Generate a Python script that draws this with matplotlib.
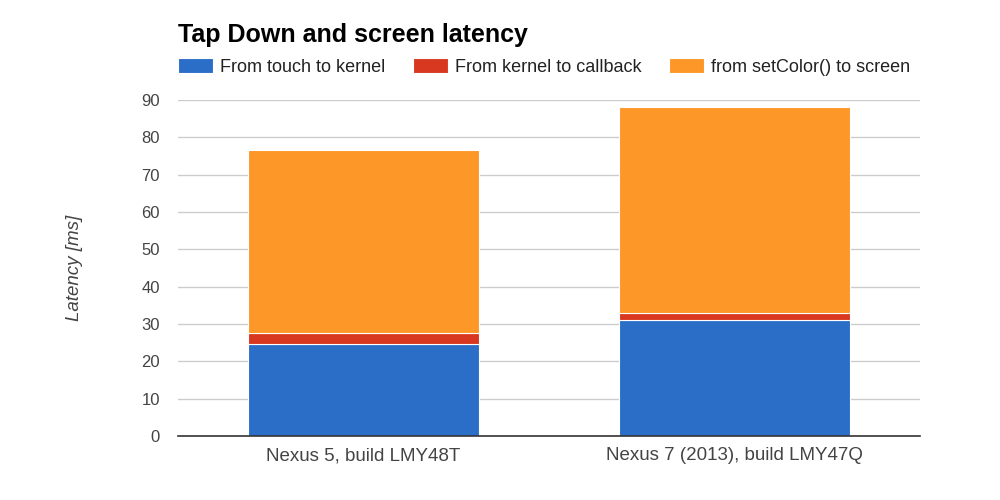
import numpy as np
import matplotlib
matplotlib.use("Agg")
import matplotlib.pyplot as plt

plt.rcParams['font.family'] = ['Liberation Sans', 'DejaVu Sans']

devices = ["Nexus 5, build LMY48T", "Nexus 7 (2013), build LMY47Q"]
touch_to_kernel = [24.6, 31.1]
kernel_to_callback = [3.1, 1.8]
setcolor_to_screen = [48.9, 55.1]

series_names = ["From touch to kernel", "From kernel to callback", "from setColor() to screen"]
colors = ["#2b6ec8", "#d93820", "#fd9727"]

fig = plt.figure(figsize=(10, 5), dpi=100)
ax = fig.add_axes([0.178, 0.128, 0.742, 0.672])

x = np.arange(len(devices))
bottom = np.zeros(len(devices))
handles = []
for vals, name, c in zip([touch_to_kernel, kernel_to_callback, setcolor_to_screen], series_names, colors):
    b = ax.bar(x, vals, width=0.62, bottom=bottom, color=c, edgecolor="white",
               linewidth=0.8, label=name, zorder=3)
    handles.append(b)
    bottom += np.array(vals)

ax.set_xlim(-0.5, 1.5)
ax.set_ylim(0, 90)
ax.set_yticks(np.arange(0, 91, 10))
ax.set_xticks(x)
ax.set_xticklabels(devices)
ax.grid(axis="y", color="#cccccc", linewidth=1, zorder=0)
for s in ["top", "right", "left"]:
    ax.spines[s].set_visible(False)
ax.spines["bottom"].set_color("#333333")
ax.spines["bottom"].set_linewidth(1.2)
ax.spines["bottom"].set_zorder(4)
ax.tick_params(axis="both", length=0, colors="#444444")
ax.tick_params(axis="y", labelsize=12, pad=13)
ax.tick_params(axis="x", labelsize=13.5, pad=8)

ax.set_ylabel("Latency [ms]", fontsize=13.5, style="italic", color="#444444", labelpad=42)

fig.text(0.178, 0.93, "Tap Down and screen latency", fontsize=18, fontweight="bold",
         ha="left", va="center")

fig.legend(handles=handles, labels=series_names, loc="center left",
           bbox_to_anchor=(0.178, 0.866), ncol=3, frameon=False, fontsize=13,
           borderpad=0, borderaxespad=0,
           handlelength=1.95, handleheight=0.85, handletextpad=0.4, columnspacing=1.5,
           labelcolor="#222222")

fig.savefig("out.png", dpi=100)
